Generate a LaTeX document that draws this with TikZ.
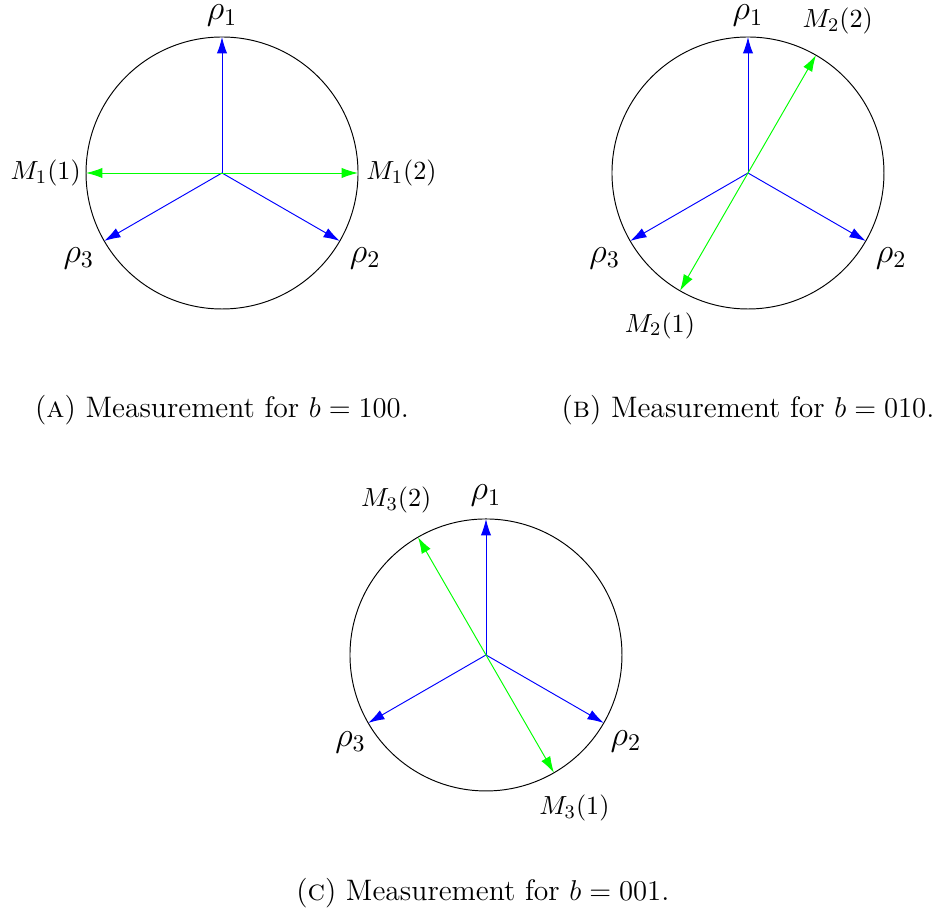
\documentclass[tikz,border=0pt]{standalone}
\usetikzlibrary{arrows.meta,positioning,calc}

\begin{document}
\begin{tikzpicture}[
  disc/.style={draw, circle, minimum size=4cm, inner sep=0pt, outer sep=0pt},
  state/.style={blue, -{Latex[length=2.4mm, width=1.5mm]}},
  meas/.style={green, -{Latex[length=2.4mm, width=1.5mm]}},
  rlab/.style={font=\fontsize{14}{16}\selectfont, inner sep=0pt},
  mlab/.style={font=\fontsize{10.95}{13}\selectfont},
  subcap/.style={align=center, font=\fontsize{12.4}{15}\selectfont}
]
\useasboundingbox (0,0) rectangle (13.824,-13.456);

% (a) b = 100
\node[disc] (da) at (3.265,-2.544) {};
\draw[state] (da.center) -- (da.90);
\draw[state] (da.center) -- (da.-30);
\draw[state] (da.center) -- (da.210);
\draw[meas] (da.center) -- (da.180);
\draw[meas] (da.center) -- (da.0);
\node[rlab] (ra1) at ($(da.center)+(90:2.31)$) {$\rho_1$};
\node[rlab] (ra2) at ($(da.center)+(-30.7:2.45)$) {$\rho_2$};
\node[rlab] (ra3) at ($(da.center)+(210.7:2.45)$) {$\rho_3$};
\node[mlab, inner sep=2pt, left=0pt of da.180] (ma1) {$M_1(1)$};
\node[mlab, right=0pt of da.0] (ma2) {$M_1(2)$};
\node[subcap] (capa) at (3.265,-6.03) {(\textsc{a}) Measurement for $b=100$.};

% (b) b = 010
\node[disc] (db) at (11.0,-2.544) {};
\draw[state] (db.center) -- (db.90);
\draw[state] (db.center) -- (db.-30);
\draw[state] (db.center) -- (db.210);
\draw[meas] (db.center) -- (db.60);
\draw[meas] (db.center) -- (db.240);
\node[rlab] (rb1) at ($(db.center)+(90:2.31)$) {$\rho_1$};
\node[rlab] (rb2) at ($(db.center)+(-30.7:2.45)$) {$\rho_2$};
\node[rlab] (rb3) at ($(db.center)+(210.7:2.45)$) {$\rho_3$};
\node[mlab] (mb2) at ($(db.center)+(59.5:2.6)$) {$M_2(2)$};
\node[mlab] (mb1) at ($(db.center)+(240:2.59)$) {$M_2(1)$};
\node[subcap] (capb) at (11.0,-6.03) {(\textsc{b}) Measurement for $b=010$.};

% (c) b = 001
\node[disc] (dc) at (7.147,-9.632) {};
\draw[state] (dc.center) -- (dc.90);
\draw[state] (dc.center) -- (dc.-30);
\draw[state] (dc.center) -- (dc.210);
\draw[meas] (dc.center) -- (dc.120);
\draw[meas] (dc.center) -- (dc.-60);
\node[rlab] (rc1) at ($(dc.center)+(90:2.34)$) {$\rho_1$};
\node[rlab] (rc2) at ($(dc.center)+(-31.7:2.42)$) {$\rho_2$};
\node[rlab] (rc3) at ($(dc.center)+(212.8:2.37)$) {$\rho_3$};
\node[mlab] (mc2) at ($(dc.center)+(120.1:2.63)$) {$M_3(2)$};
\node[mlab] (mc1) at ($(dc.center)+(-60:2.6)$) {$M_3(1)$};
\node[subcap] (capc) at (7.1,-13.13) {(\textsc{c}) Measurement for $b=001$.};

\end{tikzpicture}
\end{document}
